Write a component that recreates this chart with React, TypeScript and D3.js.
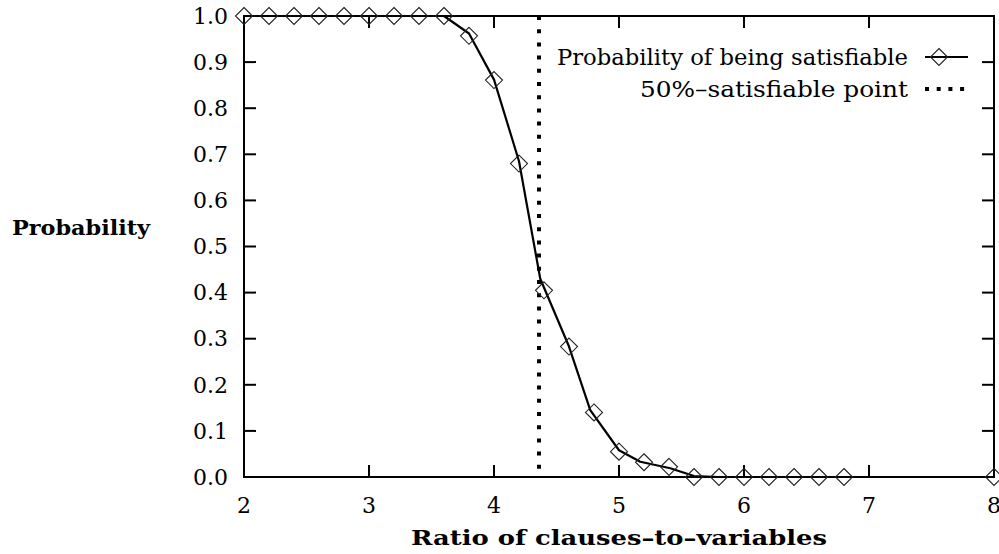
import * as d3 from "d3";
import { useEffect, useRef } from "react";

// diamonds: measured probability at each ratio
const pointRatios = [2.0, 2.2, 2.4, 2.6, 2.8, 3.0, 3.2, 3.4, 3.6, 3.8, 4.0, 4.2, 4.4, 4.6, 4.8, 5.0, 5.2, 5.4, 5.6, 5.8, 6.0, 6.2, 6.4, 6.6, 6.8, 8.0];
const pointProbs = [1, 1, 1, 1, 1, 1, 1, 1, 1, 0.957, 0.861, 0.68, 0.405, 0.283, 0.14, 0.055, 0.032, 0.022, 0, 0, 0, 0, 0, 0, 0, 0];

// solid curve
const curveRatios = [2.0, 3.6, 3.8, 4.0, 4.2, 4.37, 4.6, 4.77, 5.0, 5.17, 5.41, 5.6, 5.8];
const curveProbs = [1, 1, 0.962, 0.862, 0.685, 0.43, 0.283, 0.145, 0.058, 0.033, 0.019, 0.002, 0];

const halfPoint = 4.36;

const xTicks = [2, 3, 4, 5, 6, 7, 8];
const yTicks = [0, 0.1, 0.2, 0.3, 0.4, 0.5, 0.6, 0.7, 0.8, 0.9, 1.0];

const legendLabels = ["Probability of being satisfiable", "50%\u2013satisfiable point"];

const FONT = "\"DejaVu Serif\", serif";

function chart() {
  const width = 999;
  const height = 554;
  const left = 244;
  const right = 994;
  const top = 16;
  const bottom = 477;

  const x = d3.scaleLinear().domain([2, 8]).range([left, right]);
  const y = d3.scaleLinear().domain([0, 1]).range([bottom, top]);

  const svg = d3.create("svg")
      .attr("width", width)
      .attr("height", height)
      .attr("viewBox", [0, 0, width, height])
      .attr("style", "position:absolute; left:0; top:0; background:#fff;");

  // frame
  svg.append("rect")
      .attr("x", left).attr("y", top)
      .attr("width", right - left).attr("height", bottom - top)
      .attr("fill", "none").attr("stroke", "#000").attr("stroke-width", 2);

  // ticks (inside, mirrored)
  const tl = 12;
  const tg = svg.append("g").attr("stroke", "#000").attr("stroke-width", 2);
  tg.selectAll(".xb").data(xTicks).join("line")
      .attr("x1", d => x(d)).attr("x2", d => x(d))
      .attr("y1", bottom).attr("y2", bottom - tl);
  tg.selectAll(".xt").data(xTicks).join("line")
      .attr("x1", d => x(d)).attr("x2", d => x(d))
      .attr("y1", top).attr("y2", top + tl);
  tg.selectAll(".yl").data(yTicks).join("line")
      .attr("x1", left).attr("x2", left + tl)
      .attr("y1", d => y(d)).attr("y2", d => y(d));
  tg.selectAll(".yr").data(yTicks).join("line")
      .attr("x1", right).attr("x2", right - tl)
      .attr("y1", d => y(d)).attr("y2", d => y(d));

  // tick labels
  svg.append("g")
      .attr("text-anchor", "end")
    .selectAll("text")
    .data(yTicks)
    .join("text")
      .style("font", `22px ${FONT}`)
      .attr("x", left - 16)
      .attr("y", d => y(d))
      .attr("dy", "0.35em")
      .text(d => d3.format(".1f")(d));

  svg.append("g")
      .attr("text-anchor", "middle")
    .selectAll("text")
    .data(xTicks)
    .join("text")
      .style("font", `22px ${FONT}`)
      .attr("x", d => x(d))
      .attr("y", 505)
      .attr("dy", "0.35em")
      .text(d => String(d));

  // axis titles
  svg.append("text")
      .style("font", `bold 20px ${FONT}`)
      .attr("x", 12).attr("y", 228).attr("dy", "0.35em")
      .attr("textLength", 138).attr("lengthAdjust", "spacingAndGlyphs")
      .text("Probability");

  svg.append("text")
      .style("font", `bold 20px ${FONT}`)
      .attr("x", (left + right) / 2).attr("y", 538).attr("dy", "0.35em")
      .attr("text-anchor", "middle")
      .attr("textLength", 416).attr("lengthAdjust", "spacingAndGlyphs")
      .text("Ratio of clauses\u2013to\u2013variables");

  // 50% point
  svg.append("line")
      .attr("x1", x(halfPoint)).attr("x2", x(halfPoint))
      .attr("y1", y(1)).attr("y2", y(0))
      .attr("stroke", "#000").attr("stroke-width", 4)
      .attr("stroke-dasharray", "4 9.2");

  // curve
  svg.append("path")
      .datum(curveRatios.map((r, i) => [r, curveProbs[i]] as [number, number]))
      .attr("fill", "none").attr("stroke", "#000").attr("stroke-width", 2.2)
      .attr("stroke-linejoin", "round")
      .attr("d", d3.line<[number, number]>().x(d => x(d[0])).y(d => y(d[1])));

  // diamonds
  const s = 8.5;
  const diamond = (cx: number, cy: number) =>
    `M${cx},${cy - s}L${cx + s},${cy}L${cx},${cy + s}L${cx - s},${cy}Z`;
  svg.append("g")
      .attr("fill", "none").attr("stroke", "#222").attr("stroke-width", 1.1)
    .selectAll("path")
    .data(pointRatios.map((r, i) => [r, pointProbs[i]]))
    .join("path")
      .attr("d", d => diamond(x(d[0]), y(d[1])));

  // legend
  const lg = svg.append("g");
  const rows = [57, 89];
  lg.selectAll("text").data(legendLabels).join("text")
      .style("font", `22px ${FONT}`)
      .attr("x", 908).attr("y", (_, i) => rows[i]).attr("dy", "0.35em")
      .attr("text-anchor", "end")
      .attr("textLength", (_, i) => [351, 268][i]).attr("lengthAdjust", "spacingAndGlyphs")
      .text(d => d);
  lg.append("line")
      .attr("x1", 925).attr("x2", 968).attr("y1", rows[0]).attr("y2", rows[0])
      .attr("stroke", "#000").attr("stroke-width", 2.2);
  lg.append("path")
      .attr("d", diamond(939, rows[0]))
      .attr("fill", "none").attr("stroke", "#222").attr("stroke-width", 1.1);
  lg.append("line")
      .attr("x1", 925).attr("x2", 968).attr("y1", rows[1]).attr("y2", rows[1])
      .attr("stroke", "#000").attr("stroke-width", 4)
      .attr("stroke-dasharray", "4 7.7");

  return svg.node();
}

function App() {
  const divRef = useRef<HTMLDivElement | null>(null);
  useEffect(() => {
    if (divRef.current) {
      divRef.current.innerHTML = "";
      const node = chart();
      if (node) divRef.current.appendChild(node);
    }
  }, []);
  return <div ref={divRef} />;
}

export default App;
